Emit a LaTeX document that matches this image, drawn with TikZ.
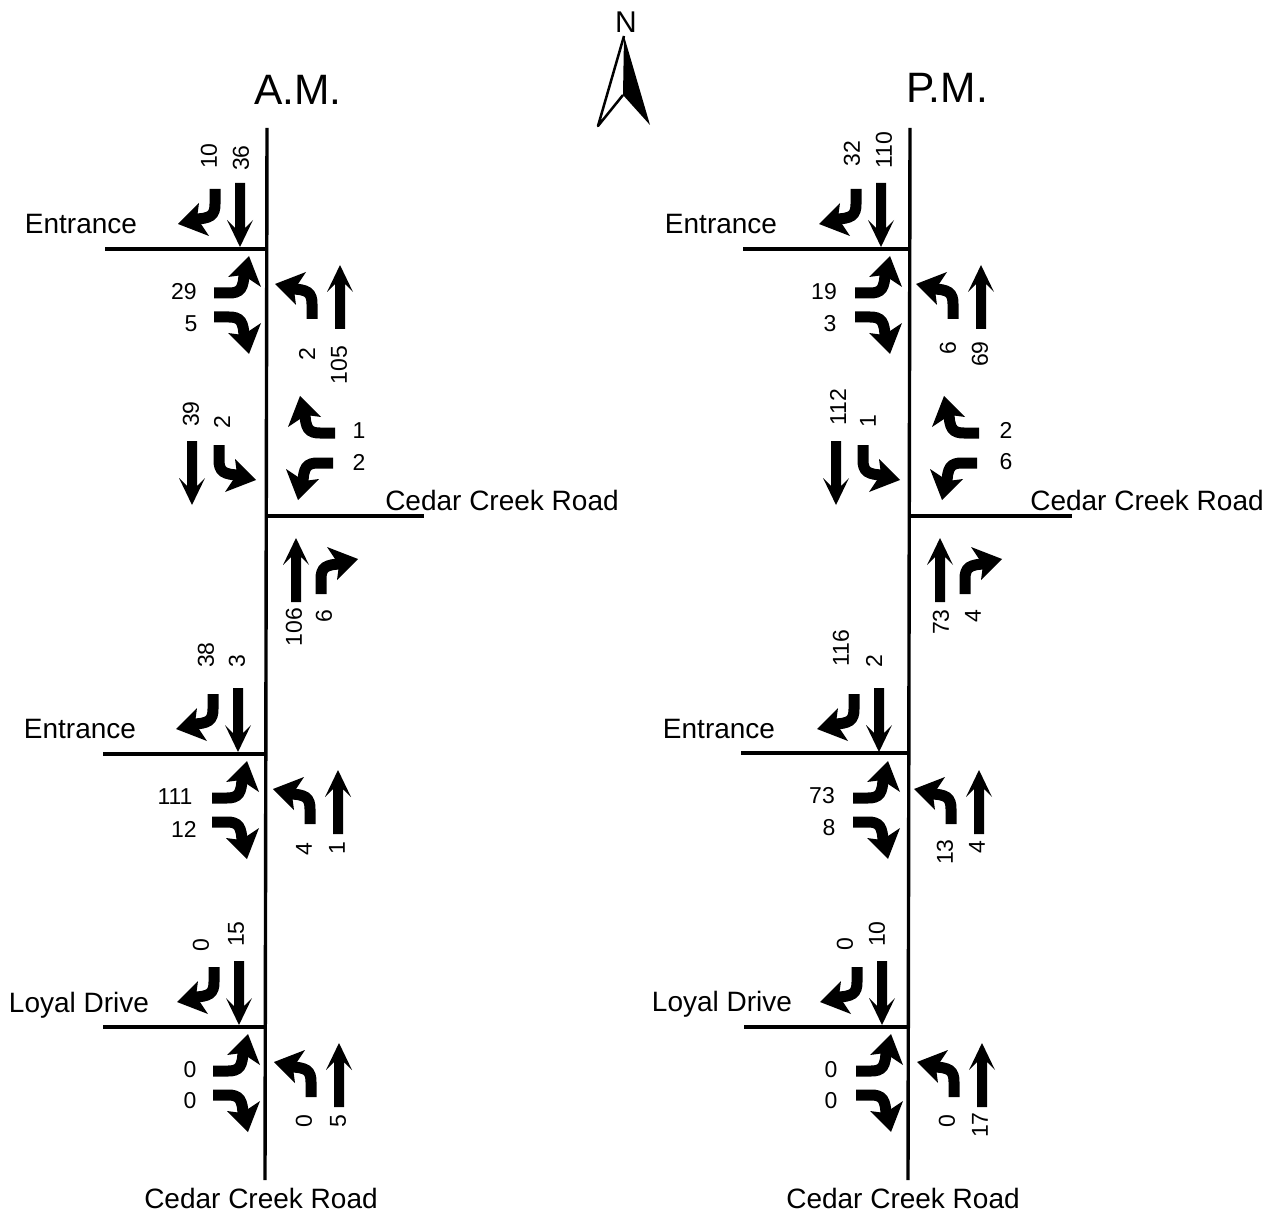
\documentclass[tikz,border=0pt]{standalone}
\usepackage{fontspec}
\setmainfont{Liberation Sans}
\tikzset{
  road/.style={draw, line width=3.4pt},
  roadname/.style={font=\fontsize{28}{30}\selectfont, inner sep=0pt},
  title/.style={font=\fontsize{42.5}{46}\selectfont, inner sep=0pt},
  hcount/.style={font=\fontsize{23}{25}\selectfont, inner sep=0pt},
  vcount/.style={hcount, rotate=90},
  heade/.style={rotate=0},
  headw/.style={rotate=180},
  headn/.style={rotate=90},
  heads/.style={rotate=-90},
  mirror/.style={yscale=-1},
  thru/.pic={
    \fill (0,-5) -- (45,-5) -- (37,-13) -- (64,0) -- (37,13) -- (45,5) -- (0,5) -- cycle;
  },
  turn/.pic={
    \draw[line width=11pt] (0,0) -- (15,0) .. controls (26,0) and (30,4) .. (30,22);
    \fill (35,37) -- (14,16) -- (29,18) -- (47,6) -- cycle;
  },
}
\begin{document}
\begin{tikzpicture}[x=1pt, y=-1pt]
\useasboundingbox (0,0) rectangle (1277,1214);
% roads
\coordinate (amtop) at (267,128);
\coordinate (ambot) at (265,1180);
\coordinate (pmtop) at (910,128);
\coordinate (pmbot) at (908,1180);
\draw[road] (amtop) -- (ambot);
\draw[road] (pmtop) -- (pmbot);
\foreach \name/\xa/\xb/\y in {ama/105/266/249, amb/266/424/516, amc/103/264/754, amd/103/265/1027,
    pma/743/909/249, pmb/909/1072/516, pmc/741/907/753, pmd/744/908/1027} {
  \coordinate (\name l) at (\xa,\y);
  \coordinate (\name r) at (\xb,\y);
  \draw[road] (\name l) -- (\name r);
}
% T junctions with the side road on the west
\foreach \dx/\dy in {0/0, -2/505, -1/778, 641/0, 639/505, 642/778} {
  \begin{scope}[shift={(\dx,\dy)}]
    \pic[heads] at (215,189) {turn};
    \pic[heads] at (240,183) {thru};
    \pic[heade, mirror] at (214,293) {turn};
    \pic[heade] at (214,317) {turn};
    \pic[headn, mirror] at (312,319) {turn};
    \pic[headn] at (340,329) {thru};
  \end{scope}
}
% Cedar Creek Road junctions
\foreach \dx/\dy in {0/0, 644/0} {
  \begin{scope}[shift={(\dx,\dy)}]
    \pic[heads] at (192,441) {thru};
    \pic[heads, mirror] at (219,445) {turn};
    \pic[headw] at (335,433) {turn};
    \pic[headw, mirror] at (333,463) {turn};
    \pic[headn] at (296,602) {thru};
    \pic[headn] at (321,594) {turn};
  \end{scope}
}
% volumes
\foreach \x/\y/\t [count=\i] in {
    209/156/10, 241/158/36, 307/354/2, 339/365/105,
    191/414/39, 222/422/2, 294/627/106, 324/616/6,
    206/655/38, 237/661/3, 304/849/4, 337/848/1,
    201/945/0, 236/934/15, 304/1121/0, 338/1121/5,
    852/154/32, 884/150/110, 948/348/6, 980/354/69,
    838/407/112, 868/421/1, 941/622/73, 973/616/4,
    841/648/116, 874/661/2, 945/852/13, 977/847/4,
    845/944/0, 877/934/10, 947/1121/0, 980/1125/17} {
  \node[vcount] (v\i) at (\x,\y) {\t};
}
\foreach \x/\y/\t [count=\i] in {
    184/292/29, 191/324/5, 359/431/1, 359/462/2,
    175/797/111, 184/829/12, 190/1070/0, 190/1101/0,
    824/292/19, 830/324/3, 1006/430/2, 1006/462/6,
    822/796/73, 829/828/8, 831/1070/0, 831/1101/0} {
  \node[hcount] (h\i) at (\x,\y) {\t};
}
% names
\node[title] (am) at (298,90) {A.M.};
\node[title] (pm) at (947,88) {P.M.};
\node[roadname] (ent1) at (81,224) {Entrance};
\node[roadname] (ent2) at (80,729) {Entrance};
\node[roadname] (ent3) at (721,224) {Entrance};
\node[roadname] (ent4) at (719,729) {Entrance};
\node[roadname] (loyal1) at (79,1005) {Loyal Drive};
\node[roadname] (loyal2) at (722,1004) {Loyal Drive};
\node[roadname] (cedar1) at (502,500) {Cedar Creek Road};
\node[roadname] (cedar2) at (1147,500) {Cedar Creek Road};
\node[roadname] (cedar3) at (261,1198) {Cedar Creek Road};
\node[roadname] (cedar4) at (903,1198) {Cedar Creek Road};
% north arrow
\node[roadname, font=\fontsize{30}{32}\selectfont] (north) at (626,22) {N};
\fill (624,36) -- (650,125) -- (623,95) -- cycle;
\draw[line width=2.5pt, line join=round] (624,36) -- (598,126) -- (623,95);
\end{tikzpicture}
\end{document}
